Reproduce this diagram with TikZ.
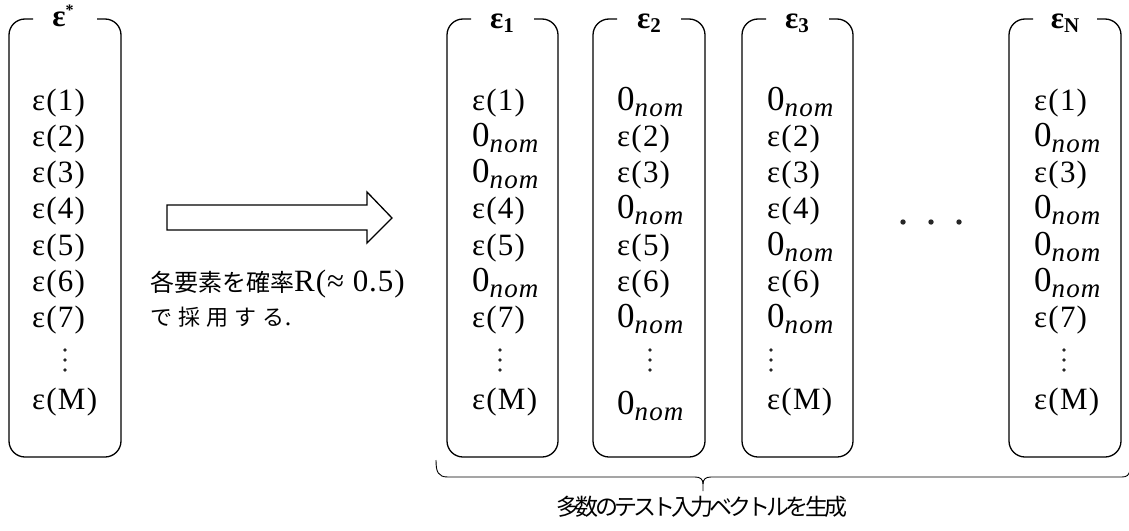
\documentclass[tikz,border=0pt]{standalone}
\usepackage{fontspec}
\setmainfont{Liberation Serif}
\newfontfamily\jp{Noto Sans CJK JP}
\newfontfamily\jpp[LetterSpace=-17]{Noto Sans CJK JP}
\newfontfamily\jpsp[LetterSpace=28]{Noto Sans CJK JP}
\newfontfamily\itemfont[LetterSpace=4]{Liberation Serif}
\newfontfamily\capfont[LetterSpace=3]{Liberation Serif}
\newcommand\eps[1]{ε(#1)}
\newcommand\onom{{\fontsize{35}{35}\selectfont 0}\raisebox{-6pt}{\fontsize{27}{27}\selectfont\itshape nom}}
\tikzset{
  boxline/.style={line width=1.3pt, rounded corners=16},
  item/.style={anchor=base west, inner sep=0pt, font=\itemfont\fontsize{31}{31}\selectfont},
  ttl/.style={anchor=base, inner sep=0pt, font=\fontsize{31}{31}\selectfont\bfseries},
  vdot/.style={fill=black!85},
}
\begin{document}
\begin{tikzpicture}[x=1pt,y=-1pt]
\useasboundingbox (0,0) rectangle (1129,530);
% boxes
\draw[boxline] (33,19) -- (9,19) -- (9,457) -- (121,457) -- (121,19) -- (97,19);
\draw[boxline] (471,19) -- (447,19) -- (447,457) -- (558,457) -- (558,19) -- (534,19);
\draw[boxline] (617,19) -- (593,19) -- (593,457) -- (705,457) -- (705,19) -- (681,19);
\draw[boxline] (766,19) -- (742,19) -- (742,457) -- (853,457) -- (853,19) -- (829,19);
\draw[boxline] (1033,19) -- (1009,19) -- (1009,457) -- (1121,457) -- (1121,19) -- (1097,19);
% titles
\node[ttl] (t0) at (63,26) {ε\raisebox{10pt}{\fontsize{16}{16}\selectfont *}};
\node[ttl] (t1) at (502,28) {ε\raisebox{-4pt}{\fontsize{21}{21}\selectfont 1}};
\node[ttl] (t2) at (649,28) {ε\raisebox{-4pt}{\fontsize{21}{21}\selectfont 2}};
\node[ttl] (t3) at (797,28) {ε\raisebox{-4pt}{\fontsize{21}{21}\selectfont 3}};
\node[ttl] (tN) at (1065,28) {ε\raisebox{-4pt}{\fontsize{21}{21}\selectfont N}};
% rows
\foreach \t [count=\i] in {\eps{1},\eps{2},\eps{3},\eps{4},\eps{5},\eps{6},\eps{7}}
  \node[item] (a\i) at (32,{110+36.3*(\i-1)}) {\t};
\node[item] (aM) at (32,409) {\eps{M}};
\foreach \t [count=\i] in {\eps{1},\onom,\onom,\eps{4},\eps{5},\onom,\eps{7}}
  \node[item] (b\i) at (472,{110+36.3*(\i-1)}) {\t};
\node[item] (bM) at (472,409) {\eps{M}};
\foreach \t [count=\i] in {\onom,\eps{2},\eps{3},\onom,\eps{5},\eps{6},\onom}
  \node[item] (c\i) at (617,{110+36.3*(\i-1)}) {\t};
\node[item] (cM) at (617,414) {\onom};
\foreach \t [count=\i] in {\onom,\eps{2},\eps{3},\eps{4},\onom,\eps{6},\onom}
  \node[item] (d\i) at (767,{110+36.3*(\i-1)}) {\t};
\node[item] (dM) at (767,409) {\eps{M}};
\foreach \t [count=\i] in {\eps{1},\onom,\eps{3},\onom,\onom,\onom,\eps{7}}
  \node[item] (e\i) at (1034,{110+36.3*(\i-1)}) {\t};
\node[item] (eM) at (1034,409) {\eps{M}};
% vertical dots
\foreach \x in {65,500,650,771,1064}
  \foreach \y in {350,360,370}
    \fill[vdot] (\x,\y) circle (1.9);
% horizontal dots
\foreach \x in {903,931,959}
  \fill[vdot] (\x,222) circle (2.7);
% block arrow
\draw[line width=1.3pt, line join=miter] (167,205) -- (367,205) -- (367,192) -- (392,218) -- (367,243) -- (367,230) -- (167,230) -- cycle;
% caption
\node[anchor=west, inner sep=0pt] (cap1) at (150,284) {{\jp\fontsize{24}{24}\selectfont 各要素を確率}{\capfont\fontsize{31}{31}\selectfont R(≈ 0.5)}};
\node[anchor=west, inner sep=0pt] (cap2) at (150,317) {{\jpsp\fontsize{22}{22}\selectfont で採用する}{\fontsize{26}{26}\selectfont .}};
% brace
\draw[line width=0.9pt] (436,460) .. controls (436,472) and (438,477) .. (448,477) -- (695,477) .. controls (700,477) and (703,479) .. (703,484) -- (703,491);
\draw[line width=0.9pt] (703,484) .. controls (703,479) and (706,477) .. (711,477) -- (1122,477) .. controls (1127,477) and (1129,475) .. (1130,470);
\node[inner sep=0pt] (bot) at (702,507) {\jpp\fontsize{23}{23}\selectfont 多数のテスト入力ベクトルを生成};
\end{tikzpicture}
\end{document}
